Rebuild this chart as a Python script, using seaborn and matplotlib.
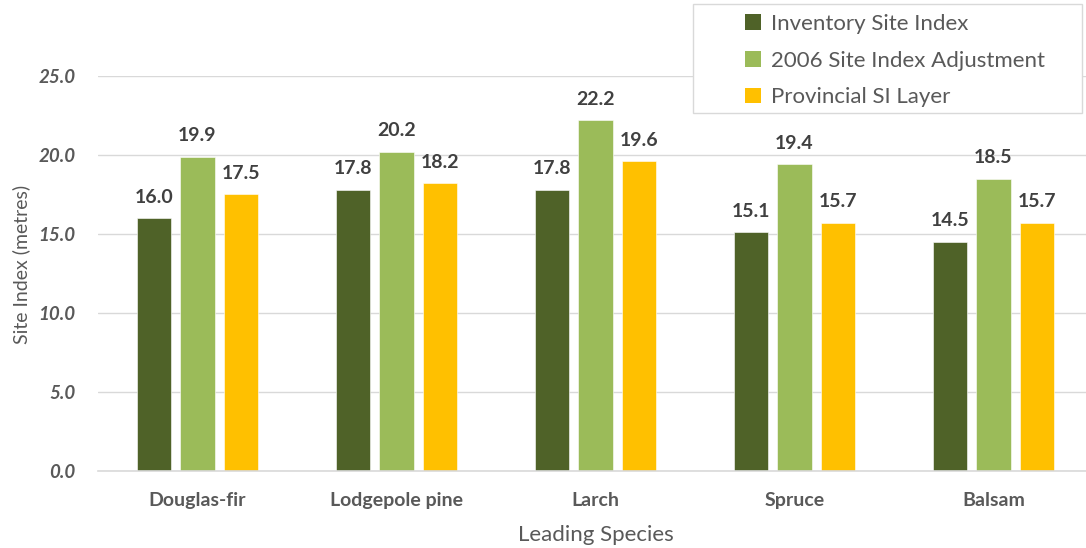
import matplotlib
matplotlib.use("Agg")
import matplotlib.pyplot as plt
from matplotlib.patches import Patch, Rectangle
import seaborn as sns
import pandas as pd

species = ["Douglas-fir", "Lodgepole pine", "Larch", "Spruce", "Balsam"]
inventory_si = [16.0, 17.8, 17.8, 15.1, 14.5]
adjusted_2006 = [19.9, 20.2, 22.2, 19.4, 18.5]
provincial_si = [17.5, 18.2, 19.6, 15.7, 15.7]
series_names = ["Inventory Site Index", "2006 Site Index Adjustment", "Provincial SI Layer"]
yticks = [0, 5, 10, 15, 20, 25]

colors = ["#4F6228", "#9BBB59", "#FFC000"]
text_grey = "#595959"
grid_grey = "#D9D9D9"

rows = []
for name, vals in zip(series_names, [inventory_si, adjusted_2006, provincial_si]):
    for sp, v in zip(species, vals):
        rows.append({"Leading Species": sp, "series": name, "value": v})
df = pd.DataFrame(rows)

sns.set_theme(style="white")
plt.rcParams["font.family"] = ["Lato", "DejaVu Sans"]

W, H = 1086, 548
fig = plt.figure(figsize=(W / 100, H / 100), dpi=100)
ax = fig.add_axes([98 / W, 1 - 471 / H, (1093 - 98) / W, (471 - 76) / H])

sns.barplot(data=df, x="Leading Species", y="value", hue="series",
            hue_order=series_names, order=species, palette=colors,
            width=0.656, gap=0.2, ax=ax, legend=False,
            edgecolor="#FFFFFF", linewidth=0.4, saturation=1)

for cont in ax.containers:
    ax.bar_label(cont, fmt="%.1f", padding=9, fontsize=14,
                 fontweight="bold", color="#404040")

ax.set_ylim(0, 25)
ax.set_xlim(-0.5, 4.5)
ax.set_yticks(yticks)
ax.set_yticklabels([f"{t:.1f}" for t in yticks], fontsize=13.5, fontstyle="italic",
                   fontweight="bold", color=text_grey)
ax.tick_params(axis="y", length=0, pad=16)
ax.tick_params(axis="x", length=0, pad=15, labelsize=14, labelcolor=text_grey)
for lbl in ax.get_xticklabels():
    lbl.set_fontweight("bold")

ax.yaxis.grid(True, color=grid_grey, linewidth=1.0)
ax.set_axisbelow(True)
for side in ["top", "right", "left"]:
    ax.spines[side].set_visible(False)
ax.spines["bottom"].set_color(grid_grey)
ax.spines["bottom"].set_linewidth(1.2)

ax.set_ylabel("Site Index (metres)", fontsize=14, color=text_grey)
ax.set_xlabel("Leading Species", fontsize=16, color=text_grey)
ax.yaxis.set_label_coords(-68 / 995, 0.5 + 9 / 395)
ax.xaxis.set_label_coords(0.5, -54 / 395)

# legend box with generous inner margins
box = Rectangle((693 / W, 1 - 113 / H), (1082 - 693) / W, 109 / H,
                transform=fig.transFigure, facecolor="white",
                edgecolor=grid_grey, linewidth=1.0, zorder=4)
fig.add_artist(box)

handles = [Patch(facecolor=c, edgecolor="none") for c in colors]
leg = fig.legend(handles, series_names, loc="upper left",
                 bbox_to_anchor=(745 / W, 1 - 14 / H),
                 fontsize=16, frameon=False,
                 handlelength=0.7, handleheight=0.7, handletextpad=0.45,
                 labelspacing=0.75, borderpad=0, borderaxespad=0,
                 labelcolor=text_grey)
leg.set_zorder(6)

fig.savefig("out.png", dpi=100)
